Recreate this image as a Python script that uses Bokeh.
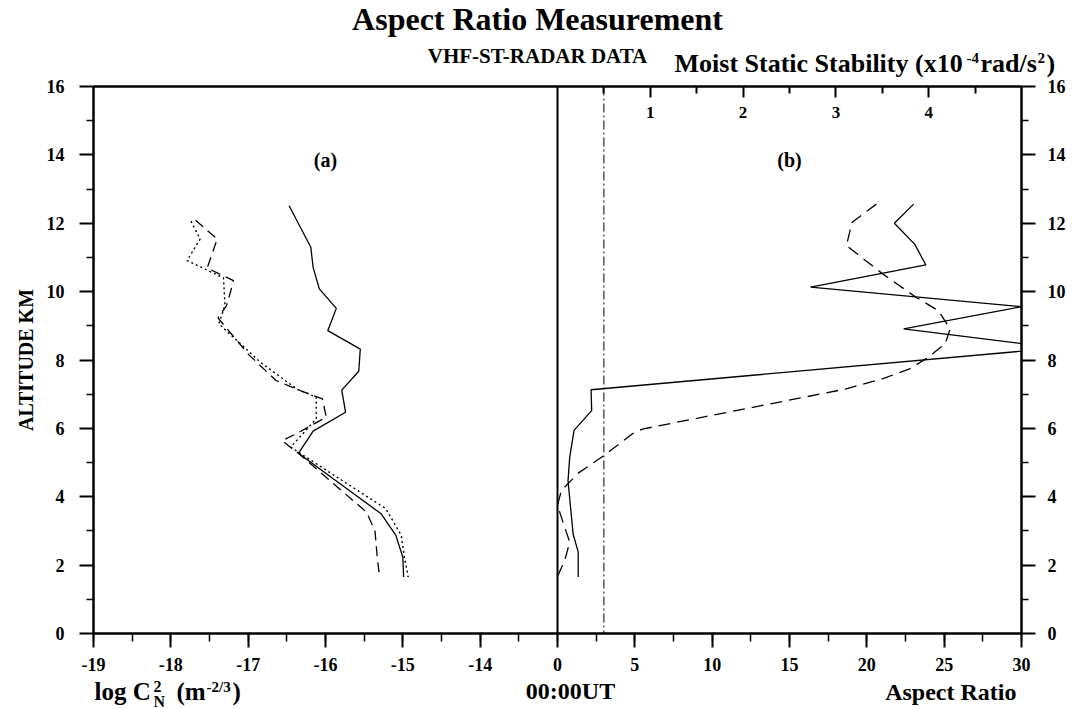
from bokeh.plotting import figure
from bokeh.layouts import column
from bokeh.models import Range1d, LinearAxis, FixedTicker, Span, Label
from bokeh.embed import file_html
from bokeh.resources import INLINE

# ---------------- data ----------------
# panel (a): log Cn^2 profiles (altitude km, log10 Cn^2)
alt_a_solid = [12.51, 11.30, 10.71, 10.08, 9.51, 8.86, 8.32, 7.67, 7.12, 6.47, 5.92, 5.27, 3.50, 2.87, 2.23, 1.65]
cn2_a_solid = [-16.47, -16.19, -16.16, -16.08, -15.86, -15.97, -15.55, -15.57, -15.79, -15.74, -16.16, -16.35, -15.28, -15.09, -15.00, -14.99]

alt_a_dash = [12.09, 11.83, 11.54, 10.69, 10.32, 9.98, 9.59, 9.23, 8.15, 7.40, 7.10, 6.86, 6.33, 5.84, 5.64, 5.27, 3.55, 3.00, 2.20, 1.65]
cn2_a_dash = [-17.68, -17.55, -17.40, -17.53, -17.19, -17.23, -17.28, -17.39, -16.99, -16.64, -16.32, -16.04, -15.99, -16.38, -16.56, -16.35, -15.47, -15.36, -15.33, -15.30]

alt_a_dot = [12.06, 11.54, 10.91, 10.40, 10.03, 9.59, 9.06, 7.93, 7.15, 6.91, 6.28, 5.45, 3.65, 2.87, 2.23, 1.65]
cn2_a_dot = [-17.74, -17.62, -17.79, -17.32, -17.31, -17.30, -17.38, -16.84, -16.37, -16.12, -16.12, -16.45, -15.22, -15.02, -14.98, -14.93]

# panel (b): aspect ratio profiles
alt_b_solid = [12.56, 12.00, 11.39, 10.78, 10.13, 9.56, 8.91, 8.35, 7.13, 6.52, 5.94, 5.16, 4.47, 2.91, 2.38, 1.65]
ar_b_solid = [23.03, 21.78, 23.09, 23.82, 16.36, 30.03, 22.38, 32.28, 2.17, 2.21, 1.07, 0.79, 0.68, 1.01, 1.34, 1.34]

alt_b_dash = [12.56, 12.03, 11.35, 10.52, 9.83, 9.44, 8.91, 8.47, 8.08, 7.74, 7.45, 7.15, 5.98, 5.84, 5.20, 4.69, 4.18, 3.75, 3.25, 2.67, 2.13, 1.70]
ar_b_dash = [20.62, 19.05, 18.68, 21.02, 23.20, 24.63, 25.39, 25.06, 23.97, 22.77, 21.00, 18.61, 5.49, 4.84, 2.98, 1.34, 0.25, 0.00, 0.36, 0.79, 0.46, 0.03]

ar_reference = 3.0  # dash-dot reference line

# ticks / labels
alt_ticks = [0, 2, 4, 6, 8, 10, 12, 14, 16]
alt_minor = [1, 3, 5, 7, 9, 11, 13, 15]
cn2_ticks = [-19, -18, -17, -16, -15, -14]
cn2_labels = ["-19", "-18", "-17", "-16", "-15", "-14"]
ar_ticks = [0, 5, 10, 15, 20, 25, 30]
ar_labels = ["0", "5", "10", "15", "20", "25", "30"]
mss_ticks = [1, 2, 3, 4]
mss_labels = ["1", "2", "3", "4"]
mss_minor = [0.5, 1.5, 2.5, 3.5, 4.5]

# ---------------- shared x axis ----------------
CN2_MIN, CN2_DIV = -19, -13          # panel (a) spans -19 .. -13
AR_MAX = 30                           # panel (b) spans 0 .. 30
AR_PER_UNIT = AR_MAX // (CN2_DIV - CN2_MIN)   # 5 aspect-ratio units per log unit
MSS_MAX = 5

FONT = "Liberation Serif"
W = 1072
TOP_H, MAIN_H, BOT_H = 77, 602, 30

def no_align(f):
    try:
        f.frame_align = False
    except Exception:
        pass

p = figure(width=W, height=MAIN_H, output_backend="svg", toolbar_location=None,
           title_location=None,
           x_range=Range1d(CN2_MIN, CN2_DIV + (CN2_DIV - CN2_MIN)),
           y_range=Range1d(0, 16),
           min_border_left=93, min_border_right=51, min_border_top=9, min_border_bottom=46,
           x_axis_location=None, y_axis_location=None)
no_align(p)
p.extra_x_ranges = {"ar": Range1d(-AR_MAX, AR_MAX), "mss": Range1d(-MSS_MAX, MSS_MAX)}
p.grid.visible = False
p.outline_line_color = "black"
p.outline_line_width = 2

def style_axis(ax, size="18px"):
    ax.axis_line_color = "black"
    ax.axis_line_width = 2
    ax.major_tick_line_width = 2
    ax.minor_tick_line_width = 1.5
    ax.major_label_text_font = FONT
    ax.major_label_text_font_style = "bold"
    ax.major_label_text_font_size = size
    ax.major_label_text_color = "black"

# bottom axis: log Cn2 ticks on the left, aspect-ratio ticks on the right
bottom_pos = list(cn2_ticks) + [CN2_DIV + a // AR_PER_UNIT for a in ar_ticks]
bottom_lab = list(cn2_labels) + list(ar_labels)
minor_pos = [CN2_MIN + 0.5 * k for k in range(0, 25)]
xb = LinearAxis(ticker=FixedTicker(ticks=bottom_pos, minor_ticks=minor_pos))
xb.major_label_overrides = {pos: lab for pos, lab in zip(bottom_pos, bottom_lab)}
style_axis(xb)
xb.major_tick_in = 0
xb.major_tick_out = 14
xb.minor_tick_in = 0
xb.minor_tick_out = 8
xb.major_label_standoff = 10
p.add_layout(xb, "below")

# top axis: moist static stability (labels drawn inside the frame below)
xt = LinearAxis(x_range_name="mss", ticker=FixedTicker(ticks=mss_ticks, minor_ticks=mss_minor))
style_axis(xt, size="0px")
xt.major_label_text_color = None
xt.major_label_standoff = 0
xt.major_tick_in = 11
xt.major_tick_out = 0
xt.minor_tick_in = 7
xt.minor_tick_out = 0
xt.major_tick_line_width = 2
xt.minor_tick_line_width = 2
p.add_layout(xt, "above")

# left axis
yl = LinearAxis(ticker=FixedTicker(ticks=alt_ticks, minor_ticks=alt_minor))
style_axis(yl)
yl.major_tick_in = 0
yl.major_tick_out = 14
yl.minor_tick_in = 0
yl.minor_tick_out = 7
yl.major_label_standoff = 15
yl.axis_label = "ALTITUDE KM"
yl.axis_label_text_font = FONT
yl.axis_label_text_font_style = "bold"
yl.axis_label_text_font_size = "20px"
yl.axis_label_text_color = "black"
yl.axis_label_standoff = 7
p.add_layout(yl, "left")

# right axis
yr = LinearAxis(ticker=FixedTicker(ticks=alt_ticks, minor_ticks=alt_minor))
style_axis(yr)
yr.major_tick_in = 0
yr.major_tick_out = 14
yr.minor_tick_in = 0
yr.minor_tick_out = 7
yr.major_label_standoff = 12
p.add_layout(yr, "right")

# divider between panels and reference line
p.add_layout(Span(location=CN2_DIV, dimension="height", line_color="black", line_width=2))
p.add_layout(Span(location=ar_reference, dimension="height", x_range_name="ar",
                  line_color="black", line_width=1, line_dash="9 3 2 3"))

# panel (a) lines
p.line(cn2_a_solid, alt_a_solid, line_color="black", line_width=1.3)
p.line(cn2_a_dash, alt_a_dash, line_color="black", line_width=1.3, line_dash="10 6")
p.line(cn2_a_dot, alt_a_dot, line_color="black", line_width=1.4, line_dash="2 3")

# panel (b) lines
p.line(ar_b_solid, alt_b_solid, line_color="black", line_width=1.3, x_range_name="ar")
p.line(ar_b_dash, alt_b_dash, line_color="black", line_width=1.3, line_dash="12 7", x_range_name="ar")

# MSS tick labels drawn inside the frame
p.text(x=mss_ticks, y=[16] * len(mss_ticks), text=mss_labels, x_range_name="mss",
       y_offset=26, text_align="center", text_baseline="middle",
       text_font="Liberation Serif", text_font_style="bold", text_font_size="17px", text_color="black")

def lab(fig, text, x, y, size, align="left", xr="default"):
    fig.add_layout(Label(x=x, y=y, text=text, x_range_name=xr,
                         text_font=FONT, text_font_style="bold", text_font_size=f"{size}px",
                         text_align=align, text_baseline="middle", text_color="black"))

lab(p, "(a)", -16, 13.85, 20, align="center")
lab(p, "(b)", 15, 13.85, 20, align="center", xr="ar")

# ---------------- text strips above / below (pixel coordinates) ----------------
def strip(h):
    f = figure(width=W, height=h, output_backend="svg", toolbar_location=None,
               title_location=None,
               x_range=Range1d(0, W), y_range=Range1d(h, 0),
               min_border=0, x_axis_location=None, y_axis_location=None)
    no_align(f)
    f.grid.visible = False
    f.outline_line_color = None
    return f

def blab(fig, text, x, baseline, size, align="left"):
    # place a text so that its alphabetic baseline sits at `baseline` (strip pixels)
    lab(fig, text, x, baseline - 0.33 * size, size, align=align)

top = strip(TOP_H)
blab(top, "Aspect Ratio Measurement", 537, 29, 32, align="center")
blab(top, "VHF-ST-RADAR DATA", 537, 62, 21, align="center")
blab(top, "Moist Static Stability (x10", 674, 72, 26)
blab(top, "-4", 966, 62, 15)
blab(top, "rad/s", 980, 72, 26)
blab(top, "2", 1037, 62, 15)
blab(top, ")", 1046, 72, 26)

bot = strip(BOT_H)
blab(bot, "log C", 94, 20, 25)
blab(bot, "2", 153, 12, 16)
blab(bot, "N", 153, 27, 16)
blab(bot, "(m", 176, 20, 25)
blab(bot, "-2/3", 206, 12, 15)
blab(bot, ")", 232, 20, 25)
blab(bot, "00:00UT", 570, 19, 24, align="center")
blab(bot, "Aspect Ratio", 1016, 20, 24, align="right")

layout = column(top, p, bot, spacing=0)
open("out.html", "w").write(file_html(layout, INLINE))
